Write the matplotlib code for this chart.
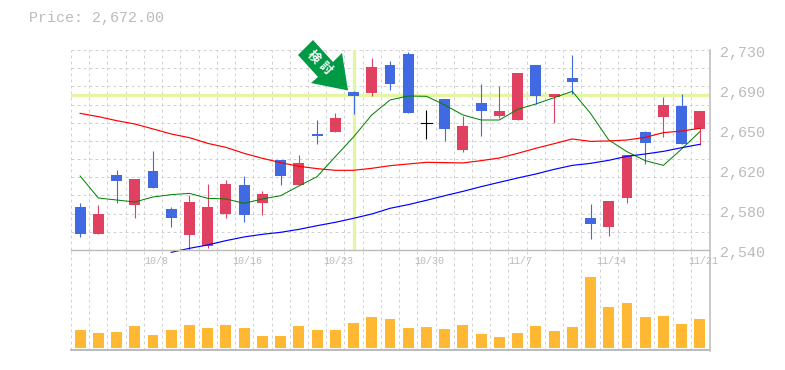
import matplotlib
matplotlib.use('Agg')
import matplotlib.pyplot as plt
from matplotlib.patches import Polygon
import numpy as np

opens = [2555.2, 2555.2, 2605.6, 2582.8, 2598.9, 2570.4, 2554.3, 2543.8, 2574.2, 2573.3,
         2584.7, 2610.3, 2601.8, 2648.3, 2652.1, 2686.3, 2689.2, 2697.7, 2670.5, 2659.7,
         2655.0, 2635.0, 2672.1, 2667.3, 2663.5, 2686.3, 2685.4, 2699.6, 2564.7, 2561.9,
         2589.4, 2641.7, 2666.4, 2640.7, 2655.0]
closes = [2580.9, 2574.2, 2611.3, 2607.5, 2615.0, 2579.0, 2585.6, 2580.9, 2602.7, 2601.8,
          2593.2, 2625.5, 2622.7, 2650.2, 2665.4, 2690.1, 2713.9, 2715.8, 2726.2, 2660.3,
          2683.5, 2657.8, 2679.7, 2672.1, 2708.2, 2715.8, 2688.2, 2703.4, 2570.4, 2586.6,
          2630.3, 2652.1, 2677.8, 2676.8, 2672.1]
highs = [2584.3, 2582.8, 2616.0, 2607.5, 2634.0, 2580.9, 2592.3, 2602.7, 2606.5, 2610.3,
         2596.0, 2625.5, 2630.3, 2663.5, 2670.2, 2691.0, 2722.4, 2719.6, 2728.1, 2673.0,
         2683.5, 2667.3, 2697.7, 2695.8, 2708.2, 2715.8, 2688.2, 2725.3, 2583.7, 2586.6,
         2630.3, 2653.0, 2685.4, 2688.2, 2672.1]
lows = [2552.4, 2555.2, 2584.7, 2570.4, 2598.9, 2561.9, 2540.0, 2541.9, 2570.4, 2566.6,
        2573.3, 2601.8, 2601.8, 2640.7, 2652.1, 2669.2, 2686.3, 2692.0, 2670.5, 2645.5,
        2643.6, 2633.1, 2648.3, 2665.4, 2663.5, 2678.7, 2660.7, 2688.2, 2550.5, 2553.3,
        2584.7, 2621.7, 2647.4, 2640.7, 2640.0]
# blue bodies, the rest go by open/close
falling = [0, 2, 4, 5, 9, 11, 13, 15, 17, 18, 20, 22, 25, 27, 28, 31, 33]
doji = [19]

ma_short = [2610.3, 2589.4, 2587.5, 2585.6, 2590.4, 2592.6, 2593.8, 2589.1, 2588.5, 2584.3,
            2588.5, 2591.6, 2600.8, 2609.7, 2628.7, 2647.4, 2668.3, 2682.5, 2686.3, 2686.0,
            2677.8, 2668.3, 2663.5, 2663.5, 2673.6, 2678.7, 2684.7, 2690.7, 2669.8, 2644.5,
            2633.4, 2624.9, 2620.4, 2636.0, 2652.4]
ma_mid = [2669.8, 2666.7, 2662.9, 2659.7, 2655.0, 2650.2, 2646.7, 2641.3, 2637.5, 2631.8,
          2627.1, 2623.0, 2619.5, 2617.3, 2615.7, 2615.7, 2617.6, 2620.1, 2621.7, 2623.3,
          2623.0, 2622.7, 2624.9, 2627.4, 2631.8, 2636.6, 2641.0, 2645.5, 2643.2, 2643.6,
          2644.5, 2647.0, 2651.5, 2653.0, 2655.6]
# long average only starts at candle 5
ma_long = [2537.8, 2541.6, 2544.8, 2548.9, 2552.4, 2554.9, 2556.8, 2559.6, 2563.1, 2566.3,
           2570.1, 2574.2, 2579.6, 2583.1, 2587.2, 2591.6, 2595.7, 2600.2, 2604.3, 2608.4,
           2612.2, 2616.6, 2620.4, 2622.3, 2625.2, 2629.0, 2631.2, 2633.7, 2637.2, 2640.4]
volumes = [18, 15, 16, 22, 13, 18, 23, 20, 23, 20, 12, 12, 22, 18, 18, 25, 31, 29,
           20, 21, 19, 23, 14, 11, 15, 22, 17, 21, 71, 41, 45, 31, 32, 24, 29]

price_ticks = [2730, 2692, 2654, 2616, 2578, 2540]
price_labels = ['2,730', '2,690', '2,650', '2,620', '2,580', '2,540']
date_pos = [4, 9, 14, 19, 24, 29, 34]
date_labels = ['10/8', '10/16', '10/23', '10/30', '11/7', '11/14', '11/21']
mark_price = 2687
mark_index = 15

W, H = 785, 370
BLUE = '#4169e1'
RED = '#e14160'
GRID = '#d2d2d2'
AXIS = '#bbbbbb'
TEXT = '#bbbbbb'
MARK = '#e4f5a5'
ORANGE = '#ffb833'
MONO = 'Liberation Mono'

fig = plt.figure(figsize=(W / 100, H / 100), dpi=100)
ax = fig.add_axes([71 / W, 1 - 250 / H, 638 / W, 200 / H])
vol = fig.add_axes([71 / W, 1 - 350 / H, 638 / W, 100 / H])

x = np.arange(len(opens))
xgrid = np.arange(len(opens) + 1) - 0.5

# price panel
ax.set_xlim(-0.5, 34.5)
ax.set_ylim(2540, 2730)
ax.set_xticks(xgrid)
ax.set_yticks(np.linspace(2540, 2730, 12))
ax.tick_params(length=0, labelbottom=False, labelleft=False)
ax.grid(True, color=GRID, lw=0.72, ls=(0, (3, 3)))
ax.set_axisbelow(True)
for s in ax.spines.values():
    s.set_visible(False)
ax.patch.set_alpha(0)

ax.axhline(mark_price, color=MARK, lw=2.4, zorder=1.5)
ax.axvline(mark_index, color=MARK, lw=2.4, zorder=1.5, ymin=0.005, ymax=0.995)

for i in x:
    if i in doji:
        c = 'black'
    elif i in falling:
        c = BLUE
    else:
        c = RED
    ax.plot([i, i], [lows[i], highs[i]], color=c, lw=0.8, zorder=2, solid_capstyle='butt')
    top = max(opens[i], closes[i])
    bot = min(opens[i], closes[i])
    if i in doji:
        ax.plot([i - 0.3, i + 0.3], [top, top], color=c, lw=0.8, zorder=2)
    else:
        ax.bar(i, top - bot, bottom=bot, width=0.6, color=c, zorder=2)

ax.plot(x, ma_short, color='#008000', lw=0.72, zorder=3)
ax.plot(x, ma_mid, color='#ff0000', lw=0.85, zorder=3)
ax.plot(x[5:], ma_long, color='#0000ff', lw=0.85, zorder=3, clip_on=False)

trans = ax.get_yaxis_transform()
for p, lab in zip(price_ticks, price_labels):
    ax.annotate(lab, (1, p), xycoords=trans, xytext=(11, -3), textcoords='offset pixels',
                fontsize=10.8, color=TEXT, family=MONO, va='center', ha='left')

# volume panel
vol.set_xlim(-0.5, 34.5)
vol.set_ylim(-2, 98)
vol.bar(x, volumes, width=0.6, color=ORANGE, zorder=2)
vol.set_xticks(xgrid)
vol.set_yticks([])
vol.tick_params(length=0, labelbottom=False)
vol.grid(True, axis='x', color=GRID, lw=0.72, ls=(0, (3, 3)))
vol.set_axisbelow(True)
vol.patch.set_alpha(0)
for s in ['left', 'right']:
    vol.spines[s].set_visible(False)
vol.spines['top'].set_color(AXIS)
vol.spines['bottom'].set_color(AXIS)
vol.spines['top'].set_linewidth(1)
vol.spines['bottom'].set_linewidth(1.4)

for p, lab in zip(date_pos, date_labels):
    vol.annotate(lab, (p, 1), xycoords=vol.get_xaxis_transform(), xytext=(3, -11),
                 textcoords='offset pixels', fontsize=7.2, color=TEXT, family=MONO,
                 ha='center', va='center')

# overlay in pixel coordinates for title, right border and arrow
over = fig.add_axes([0, 0, 1, 1])
over.set_xlim(0, W)
over.set_ylim(H, 0)
over.axis('off')
over.patch.set_alpha(0)
over.plot([710, 710], [50, 351], color=AXIS, lw=1.1)
over.text(29, 18, 'Price: 2,672.00', fontsize=10.8, color=TEXT, family=MONO, va='center', ha='left')
over.add_patch(Polygon([(313, 40), (298, 55), (318, 77), (311, 83), (348, 90.5), (342, 53), (333, 62)],
                       closed=True, fc='#009944', ec='none'))
over.text(313, 57, '検', fontsize=9, color='white', fontweight='bold', rotation=-45,
          family=['Noto Sans CJK JP', 'DejaVu Sans'], ha='center', va='center')
over.text(325, 68, '討', fontsize=9, color='white', fontweight='bold', rotation=-45,
          family=['Noto Sans CJK JP', 'DejaVu Sans'], ha='center', va='center')

fig.savefig('out.png', dpi=100)
